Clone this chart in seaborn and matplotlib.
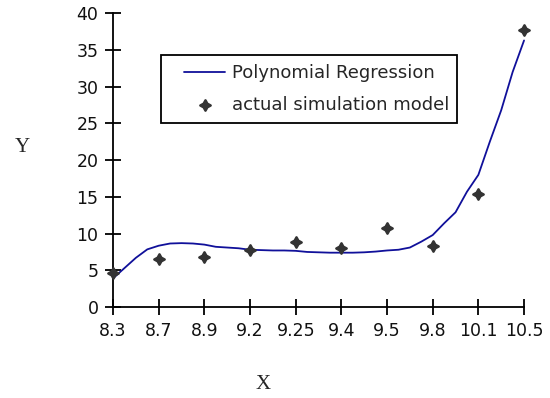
import numpy as np
import pandas as pd
import matplotlib
matplotlib.use("Agg")
import matplotlib.pyplot as plt
import seaborn as sns
from matplotlib.collections import PathCollection
from matplotlib.legend_handler import HandlerLine2D, HandlerPathCollection
from matplotlib.lines import Line2D

# categories on the x axis (equally spaced, as in the original sheet)
x_labels = ["8.3", "8.7", "8.9", "9.2", "9.25", "9.4", "9.5", "9.8", "10.1", "10.5"]

# actual simulation model (markers)
actual = [4.6, 6.6, 6.85, 7.75, 8.9, 8.0, 10.7, 8.35, 15.4, 37.7]

# polynomial regression curve, read at every quarter category step
poly_curve = [3.9, 5.3, 6.7, 7.85, 8.35, 8.65, 8.7, 8.65, 8.5,
              8.2, 8.1, 8.0, 7.8, 7.75, 7.7, 7.7, 7.65,
              7.5, 7.45, 7.4, 7.4, 7.4, 7.45, 7.55, 7.7,
              7.8, 8.1, 8.9, 9.8, 11.4, 12.9, 15.7, 18.0,
              22.5, 26.8, 32.0, 36.3]

sns.set_style("white")
plt.rcParams.update(
    {
        "font.family": ["DejaVu Sans"],
        "font.size": 12.5,
        "axes.linewidth": 1.3,
        "axes.edgecolor": "black",
    }
)

pos = np.arange(len(x_labels))
curve_pos = np.arange(len(poly_curve)) * 0.25

df_points = pd.DataFrame({"pos": pos, "y": actual})
df_curve = pd.DataFrame({"pos": curve_pos, "y": poly_curve})

fig = plt.figure(figsize=(5.5, 3.98), dpi=100)
ax = fig.add_axes([0.2055, 0.2286, 0.7473, 0.738])

sns.lineplot(
    data=df_curve,
    x="pos",
    y="y",
    color="#10109a",
    linewidth=1.3,
    ax=ax,
    label="Polynomial Regression",
)
sns.scatterplot(
    data=df_points,
    x="pos",
    y="y",
    marker=(4, 1, 0),
    s=55,
    color="#333333",
    edgecolor="#333333",
    linewidth=1.8,
    ax=ax,
    label="actual simulation model",
    zorder=3,
)
for coll in ax.collections:
    coll.set_clip_on(False)
for line in ax.lines:
    line.set_clip_on(False)

ax.set_xlim(0, len(x_labels) - 1)
ax.set_ylim(0, 40)
ax.set_xticks(pos)
ax.set_xticklabels(x_labels)
ax.set_yticks(np.arange(0, 41, 5))

ax.tick_params(axis="both", direction="inout", length=11, width=1.3,
               color="black", labelsize=12.5, labelcolor="#111111",
               bottom=True, left=True)
ax.tick_params(axis="x", pad=5)
ax.tick_params(axis="y", pad=5)

sns.despine(ax=ax)

ax.set_xlabel("")
ax.set_ylabel("")
fig.text(0.04, 0.63, "Y", family=["Liberation Serif", "DejaVu Serif"],
         fontsize=15, ha="center", va="center")
fig.text(0.478, 0.035, "X", family=["Liberation Serif", "DejaVu Serif"],
         fontsize=15, ha="center", va="center")

# legend box with a fixed width, handles pushed a bit to the right
leg = ax.legend(
    loc="upper left",
    bbox_to_anchor=(0.117, 0.633, 0.72, 0.225),
    mode="expand",
    borderaxespad=0,
    frameon=True,
    fancybox=False,
    edgecolor="black",
    framealpha=1,
    handlelength=3.05,
    handletextpad=0.35,
    borderpad=0.5,
    labelspacing=0.75,
    scatterpoints=1,
    fontsize=13,
    handler_map={
        Line2D: HandlerLine2D(xpad=0.78),
        PathCollection: HandlerPathCollection(xpad=0.78),
    },
)
leg.get_frame().set_linewidth(1.3)

fig.savefig("out.png", dpi=100)
